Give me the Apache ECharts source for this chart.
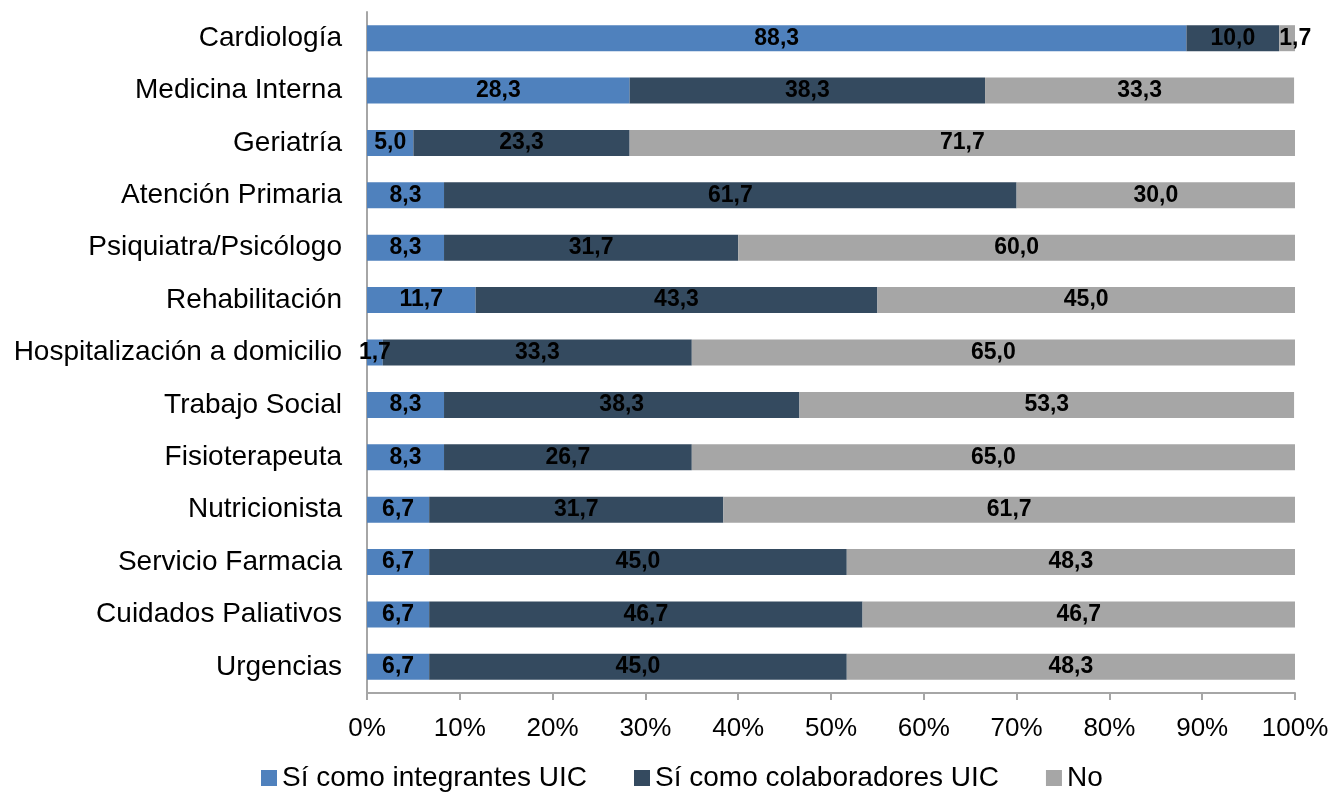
<!DOCTYPE html>
<html>
<head>
<meta charset="utf-8">
<script src="https://cdn.jsdelivr.net/npm/echarts@6/dist/echarts.min.js"></script>
<style>
  html, body { margin: 0; padding: 0; background: #fff; }
  #chart { width: 1333px; height: 794px; }
</style>
</head>
<body>
<div id="chart"></div>
<script>
// datos (%)
var categorias = ['Cardiología', 'Medicina Interna', 'Geriatría', 'Atención Primaria',
  'Psiquiatra/Psicólogo', 'Rehabilitación', 'Hospitalización a domicilio', 'Trabajo Social',
  'Fisioterapeuta', 'Nutricionista', 'Servicio Farmacia', 'Cuidados Paliativos', 'Urgencias'];
var integrantes = [88.3, 28.3, 5.0, 8.3, 8.3, 11.7, 1.7, 8.3, 8.3, 6.7, 6.7, 6.7, 6.7];
var colaboradores = [10.0, 38.3, 23.3, 61.7, 31.7, 43.3, 33.3, 38.3, 26.7, 31.7, 45.0, 46.7, 45.0];
var noValores = [1.7, 33.3, 71.7, 30.0, 60.0, 45.0, 65.0, 53.3, 65.0, 61.7, 48.3, 46.7, 48.3];
var nombres = ['Sí como integrantes UIC', 'Sí como colaboradores UIC', 'No'];
var colores = ['#4F81BD', '#344A5F', '#A6A6A6'];

var chart = echarts.init(document.getElementById('chart'));

function etiqueta(p) {
  return p.value.toFixed(1).replace('.', ',');
}

function serie(i, datos) {
  return {
    name: nombres[i],
    type: 'bar',
    stack: 'total',
    barWidth: 26,
    data: datos,
    itemStyle: { color: colores[i] },
    label: {
      show: true,
      position: 'inside',
      formatter: etiqueta,
      color: '#000',
      fontWeight: 'bold',
      fontSize: 23,
      fontFamily: 'Liberation Sans, Arial'
    }
  };
}

var serieNo = serie(2, noValores.map(function (v, k) {
  // el 1,7 de Cardiología sale a la derecha del segmento
  return k === 0 ? { value: v, label: { position: 'insideLeft', distance: 0 } } : v;
}));

var option = {
  animation: false,
  textStyle: { fontFamily: 'Liberation Sans, Arial' },
  grid: { left: 367, right: 38, top: 12, bottom: 101 },
  legend: {
    bottom: -3,
    left: 256,
    itemWidth: 16,
    itemHeight: 16,
    itemGap: 47,
    icon: 'rect',
    textStyle: { fontSize: 28, color: '#000' },
    data: nombres
  },
  xAxis: {
    type: 'value',
    min: 0,
    max: 100,
    interval: 10,
    axisLine: { show: true, lineStyle: { color: '#A6A6A6', width: 2 } },
    axisTick: { show: true, length: 7, lineStyle: { color: '#A6A6A6', width: 2 } },
    splitLine: { show: false },
    axisLabel: { formatter: '{value}%', fontSize: 26, color: '#000', margin: 23 }
  },
  yAxis: {
    type: 'category',
    inverse: true,
    data: categorias,
    axisLine: { show: true, lineStyle: { color: '#A6A6A6', width: 2 } },
    axisTick: { show: false },
    axisLabel: { fontSize: 28, color: '#000', margin: 25 }
  },
  series: [serie(0, integrantes), serie(1, colaboradores), serieNo]
};

chart.setOption(option);
</script>
</body>
</html>
